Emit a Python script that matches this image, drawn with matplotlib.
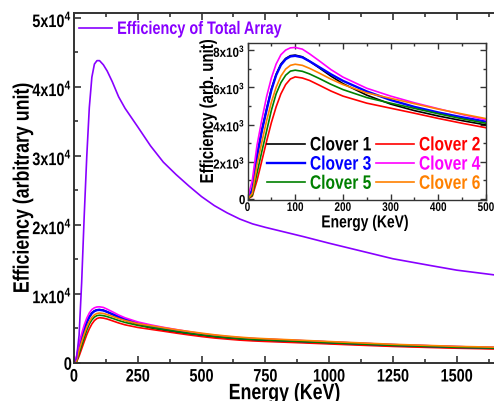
import matplotlib
matplotlib.use("Agg")
import matplotlib.pyplot as plt
from matplotlib import patheffects
from matplotlib.transforms import Affine2D
from matplotlib.ticker import MultipleLocator, FuncFormatter

plt.rcParams['font.family'] = ['Liberation Sans', 'DejaVu Sans']
plt.rcParams['font.weight'] = 'bold'
plt.rcParams['axes.labelweight'] = 'bold'

energy = [0, 10, 20, 30, 40, 50, 60, 70, 80, 90, 100, 115, 130, 150, 175, 200,
          250, 300, 350, 400, 450, 500, 550, 600, 650, 700, 750, 800, 900, 1000,
          1100, 1250, 1400, 1500, 1650]

clover1 = [0, 500, 2350, 3700, 4830, 5900, 6700, 7250, 7550, 7700, 7730, 7640, 7400, 7050, 6600, 6200,
           5580, 5100, 4750, 4460, 4210, 3980, 3760, 3590, 3440, 3330, 3240, 3170, 3020, 2860,
           2720, 2490, 2330, 2220, 2110]
clover2 = [0, 150, 1000, 2050, 3100, 4100, 4950, 5650, 6150, 6450, 6560, 6500, 6370, 6120, 5800, 5530,
           5150, 4880, 4610, 4330, 4070, 3830, 3620, 3460, 3310, 3200, 3120, 3050, 2910, 2760,
           2610, 2400, 2240, 2140, 2030]
clover3 = [0, 500, 2300, 3650, 4780, 5850, 6650, 7200, 7510, 7660, 7690, 7610, 7400, 7090, 6700, 6350,
           5780, 5320, 4950, 4650, 4390, 4160, 3940, 3750, 3600, 3480, 3390, 3310, 3160, 3000,
           2840, 2610, 2430, 2320, 2200]
clover4 = [0, 1000, 2900, 4250, 5500, 6500, 7250, 7750, 8000, 8120, 8140, 8050, 7800, 7430, 6950, 6550,
           5950, 5530, 5170, 4850, 4540, 4250, 4020, 3840, 3680, 3550, 3460, 3390, 3230, 3060,
           2900, 2660, 2490, 2370, 2250]
clover5 = [0, 200, 1400, 2550, 3650, 4760, 5650, 6250, 6650, 6870, 6920, 6860, 6720, 6480, 6160, 5880,
           5450, 5150, 4870, 4580, 4310, 4070, 3850, 3670, 3520, 3400, 3320, 3240, 3090, 2930,
           2780, 2550, 2380, 2270, 2150]
clover6 = [0, 300, 1850, 3050, 4200, 5200, 6000, 6600, 6980, 7180, 7240, 7180, 7020, 6770, 6440, 6150,
           5700, 5410, 5120, 4830, 4570, 4320, 4090, 3900, 3740, 3610, 3520, 3440, 3280, 3110,
           2950, 2710, 2530, 2410, 2290]
total = [0, 700, 4050, 11650, 21300, 29900, 37000, 41400, 43300, 43800, 43800, 43200, 42300, 40750, 38550, 36900,
         34200, 31450, 29100, 27300, 25650, 24100, 22800, 21750, 20850, 20150, 19650, 19200, 18300, 17350,
         16450, 15100, 14100, 13450, 12750]

clover_names = ['Clover 1', 'Clover 2', 'Clover 3', 'Clover 4', 'Clover 5', 'Clover 6']
clover_data = [clover1, clover2, clover3, clover4, clover5, clover6]
clover_colors = ['black', '#ff0000', '#0000ff', '#ff00ff', '#008000', '#ff8000']
clover_widths = [1.2, 1.2, 1.7, 1.2, 1.2, 1.2]

spine_col = '#333333'
SQ = 0.8  # the original lettering is a condensed face


class Tall(patheffects.AbstractPathEffect):
    # stretch glyphs across the baseline so a smaller font looks condensed
    def __init__(self, sy=1 / SQ):
        super().__init__()
        self.sy = sy

    def draw_path(self, renderer, gc, tpath, affine, rgbFace=None):
        ext = tpath.get_extents()
        yc = 0.5 * (ext.y0 + ext.y1)
        t = Affine2D().translate(0, -yc).scale(1, self.sy).translate(0, yc) + affine
        renderer.draw_path(gc, tpath, t, rgbFace)


def main_fmt(v, pos):
    if abs(v) < 1:
        return '0'
    return r'$\mathregular{%dx10^{4}}$' % round(v / 1e4)


def inset_fmt(v, pos):
    if abs(v) < 1:
        return '0'
    return r'$\mathregular{%dx10^{3}}$' % round(v / 1e3)


fig = plt.figure(figsize=(4.94, 4.01), dpi=100)

ax = fig.add_axes([74 / 494, 1 - 363 / 401, 421 / 494, 350 / 401])
for name, vals, col, lw in zip(clover_names, clover_data, clover_colors, clover_widths):
    ax.plot(energy, vals, color=col, lw=lw)
tot_line, = ax.plot(energy, total, color='#8800ff', lw=1.2)

ax.set_xlim(0, 1650)
ax.set_ylim(0, 50700)
ax.xaxis.set_major_locator(MultipleLocator(250))
ax.xaxis.set_minor_locator(MultipleLocator(125))
ax.yaxis.set_major_locator(MultipleLocator(10000))
ax.yaxis.set_minor_locator(MultipleLocator(5000))
ax.yaxis.set_major_formatter(FuncFormatter(main_fmt))
ax.tick_params(which='both', direction='in', top=True, right=False, width=1.2, color=spine_col)
ax.tick_params(which='major', length=5)
ax.tick_params(which='minor', length=3)
ax.tick_params(axis='x', labelsize=13 * SQ, pad=4.5)
ax.tick_params(axis='y', labelsize=13 * SQ, pad=1.5)
for s in ax.spines.values():
    s.set_color(spine_col)
    s.set_linewidth(1.4)
xl = ax.set_xlabel('Energy (KeV)', fontsize=16 * SQ)
yl = ax.set_ylabel('Efficiency (arbitrary unit)', fontsize=16 * SQ)
ax.xaxis.set_label_coords(0.5, (363 - 385) / 350)
ax.yaxis.set_label_coords((31.5 - 74) / 421, 0.5)
xl.set_path_effects([Tall()])
yl.set_path_effects([Tall()])

leg = ax.legend([tot_line], ['Efficiency of Total Array'], loc='upper left',
                bbox_to_anchor=(79 / 494, 1 - 22 / 401), bbox_transform=fig.transFigure,
                frameon=False, handlelength=2.29, handletextpad=0.35, borderpad=0,
                borderaxespad=0, labelcolor='linecolor', prop={'size': 13 * SQ, 'weight': 'bold'})
for t in leg.get_texts():
    t.set_path_effects([Tall()])

axin = fig.add_axes([247.5 / 494, 1 - 200 / 401, 238.5 / 494, 157 / 401])
lines = []
for name, vals, col, lw in zip(clover_names, clover_data, clover_colors, clover_widths):
    ln, = axin.plot(energy, vals, color=col, lw=lw, label=name)
    lines.append(ln)
axin.set_xlim(0, 500)
axin.set_ylim(-50, 8380)
axin.xaxis.set_major_locator(MultipleLocator(100))
axin.xaxis.set_minor_locator(MultipleLocator(50))
axin.yaxis.set_major_locator(MultipleLocator(2000))
axin.yaxis.set_minor_locator(MultipleLocator(1000))
axin.yaxis.set_major_formatter(FuncFormatter(inset_fmt))
axin.tick_params(which='both', direction='in', top=True, right=True, width=1.0, color=spine_col)
axin.tick_params(which='major', length=4)
axin.tick_params(which='minor', length=2.5)
axin.tick_params(axis='x', labelsize=9 * SQ, pad=1.5)
axin.tick_params(axis='y', labelsize=9.5 * 0.88, pad=1.5)
for s in axin.spines.values():
    s.set_color(spine_col)
    s.set_linewidth(1.0)
ixl = axin.set_xlabel('Energy (KeV)', fontsize=12.5 * SQ)
iyl = axin.set_ylabel('Efficiency (arb. unit)', fontsize=13.5 * SQ)
axin.xaxis.set_label_coords(0.493, (200 - 215.5) / 157)
axin.yaxis.set_label_coords((215 - 247.5) / 238.5, (200 - 111.5) / 157)
ixl.set_path_effects([Tall()])
iyl.set_path_effects([Tall()])

order = [0, 2, 4, 1, 3, 5]
ileg = axin.legend([lines[i] for i in order], [clover_names[i] for i in order], ncol=2,
                   loc='upper left', bbox_to_anchor=(267 / 494, 1 - 137 / 401),
                   bbox_transform=fig.transFigure, frameon=False, handlelength=2.44,
                   handletextpad=0.32, columnspacing=0.32, labelspacing=0.27,
                   borderpad=0, borderaxespad=0, labelcolor='linecolor',
                   prop={'size': 14 * SQ, 'weight': 'bold'})
for t in ileg.get_texts():
    t.set_path_effects([Tall()])

# tick labels exist only after a first draw
fig.canvas.draw()
for tk in ax.xaxis.get_major_ticks() + ax.yaxis.get_major_ticks() + axin.xaxis.get_major_ticks():
    tk.label1.set_path_effects([Tall()])
for tk in axin.yaxis.get_major_ticks():
    tk.label1.set_path_effects([Tall(1 / 0.88)])

fig.savefig('out.png', dpi=100)
